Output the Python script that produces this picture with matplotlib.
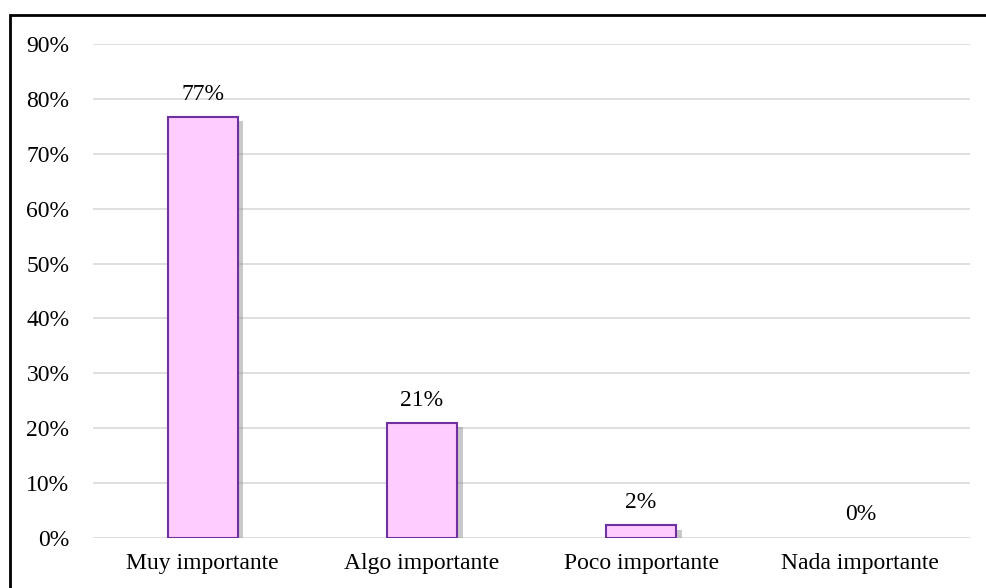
import matplotlib
matplotlib.use('Agg')
import matplotlib.pyplot as plt
import matplotlib.patheffects as pe
from matplotlib.patches import Rectangle
from matplotlib.ticker import PercentFormatter

categories = ['Muy importante', 'Algo importante', 'Poco importante', 'Nada importante']
values = [0.767, 0.209, 0.023, 0.0]
labels = ['77%', '21%', '2%', '0%']

plt.rcParams['font.family'] = ['Liberation Serif', 'DejaVu Serif']
plt.rcParams['font.size'] = 17

fig = plt.figure(figsize=(9.86, 5.88), dpi=100)
ax = fig.add_axes([93 / 986, 50 / 588, 877 / 986, 494 / 588])

x = range(len(categories))
bars = ax.bar(x, values, width=0.32, color='#FFCCFF', edgecolor='#7030A0', linewidth=1.5, zorder=3)
for b in bars:
    if b.get_height() > 0:
        b.set_path_effects([pe.SimplePatchShadow(offset=(4, -3), shadow_rgbFace='#888888', alpha=0.45),
                            pe.Normal()])
    else:
        b.set_visible(False)

for xi, v, lab in zip(x, values, labels):
    ax.annotate(lab, (xi, v), xytext=(0, 9), textcoords='offset points',
                ha='center', va='bottom')

ax.set_xlim(-0.5, len(categories) - 0.5)
ax.set_ylim(0, 0.9)
ax.set_yticks([i / 10 for i in range(10)])
ax.yaxis.set_major_formatter(PercentFormatter(1.0, decimals=0))
ax.set_xticks(list(x))
ax.set_xticklabels(categories)
ax.tick_params(axis='y', length=0, pad=17)
ax.tick_params(axis='x', length=0, pad=11)
ax.grid(axis='y', color='#D9D9D9', linewidth=1.2, zorder=0)
for s in ax.spines.values():
    s.set_visible(False)

# black frame around the chart (cut off at right and bottom)
fig.patches.append(Rectangle((10 / 986, -0.05), 1.1, (588 - 15) / 588 + 0.05,
                             transform=fig.transFigure, fill=False,
                             edgecolor='black', linewidth=2, clip_on=False))

fig.savefig('out.png', dpi=100)
